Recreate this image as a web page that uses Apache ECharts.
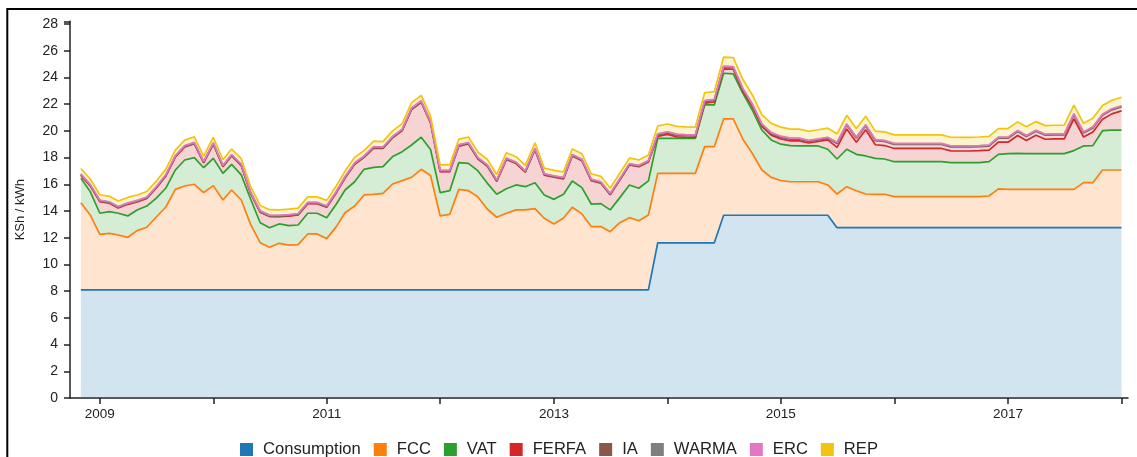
<!DOCTYPE html>
<html><head><meta charset="utf-8">
<script src="https://cdn.jsdelivr.net/npm/echarts@6/dist/echarts.min.js"></script>
<style>html,body{margin:0;padding:0;background:#fff}#c{width:1137px;height:457px}</style>
</head><body><div id="c"></div>
<script>
const months = [
'2008-11','2008-12',
'2009-01','2009-02','2009-03','2009-04','2009-05','2009-06','2009-07','2009-08','2009-09','2009-10','2009-11','2009-12',
'2010-01','2010-02','2010-03','2010-04','2010-05','2010-06','2010-07','2010-08','2010-09','2010-10','2010-11','2010-12',
'2011-01','2011-02','2011-03','2011-04','2011-05','2011-06','2011-07','2011-08','2011-09','2011-10','2011-11','2011-12',
'2012-01','2012-02','2012-03','2012-04','2012-05','2012-06','2012-07','2012-08','2012-09','2012-10','2012-11','2012-12',
'2013-01','2013-02','2013-03','2013-04','2013-05','2013-06','2013-07','2013-08','2013-09','2013-10','2013-11','2013-12',
'2014-01','2014-02','2014-03','2014-04','2014-05','2014-06','2014-07','2014-08','2014-09','2014-10','2014-11','2014-12',
'2015-01','2015-02','2015-03','2015-04','2015-05','2015-06','2015-07','2015-08','2015-09','2015-10','2015-11','2015-12',
'2016-01','2016-02','2016-03','2016-04','2016-05','2016-06','2016-07','2016-08','2016-09','2016-10','2016-11','2016-12',
'2017-01','2017-02','2017-03','2017-04','2017-05','2017-06','2017-07','2017-08','2017-09','2017-10','2017-11','2017-12',
'2018-01'];

const consumption = [
8.1,8.1,8.1,8.1,8.1,8.1,8.1,8.1,8.1,8.1,
8.1,8.1,8.1,8.1,8.1,8.1,8.1,8.1,8.1,8.1,
8.1,8.1,8.1,8.1,8.1,8.1,8.1,8.1,8.1,8.1,
8.1,8.1,8.1,8.1,8.1,8.1,8.1,8.1,8.1,8.1,
8.1,8.1,8.1,8.1,8.1,8.1,8.1,8.1,8.1,8.1,
8.1,8.1,8.1,8.1,8.1,8.1,8.1,8.1,8.1,8.1,
8.1,11.62,11.62,11.62,11.62,11.62,11.62,11.62,13.68,13.68,
13.68,13.68,13.68,13.68,13.68,13.68,13.68,13.68,13.68,13.68,
12.75,12.75,12.75,12.75,12.75,12.75,12.75,12.75,12.75,12.75,
12.75,12.75,12.75,12.75,12.75,12.75,12.75,12.75,12.75,12.75,
12.75,12.75,12.75,12.75,12.75,12.75,12.75,12.75,12.75,12.75,12.75];

const fcc = [
6.52,5.60,4.15,4.23,4.10,3.93,4.43,4.68,5.43,6.18,
7.52,7.77,7.90,7.27,7.80,6.72,7.47,6.72,4.90,3.53,
3.18,3.48,3.35,3.38,4.18,4.18,3.83,4.73,5.77,6.27,
7.10,7.15,7.22,7.92,8.17,8.42,9.02,8.56,5.53,5.65,
7.52,7.42,6.97,6.03,5.43,5.73,5.98,5.98,6.07,5.35,
4.93,5.38,6.18,5.68,4.73,4.73,4.35,5.02,5.40,5.17,
5.60,5.20,5.20,5.20,5.20,5.20,7.20,7.20,7.21,7.21,
5.69,4.64,3.39,2.84,2.60,2.51,2.51,2.51,2.51,2.27,
2.52,3.07,2.77,2.52,2.50,2.50,2.32,2.32,2.32,2.32,
2.32,2.32,2.32,2.32,2.32,2.32,2.37,2.90,2.87,2.87,
2.87,2.87,2.87,2.87,2.87,2.87,3.37,3.37,4.32,4.32,4.32];

const vat = [
1.83,1.75,1.58,1.62,1.63,1.60,1.55,1.59,1.42,1.42,
1.45,1.95,1.99,1.87,2.04,2.00,1.92,1.88,1.90,1.49,
1.47,1.45,1.45,1.47,1.55,1.55,1.57,1.69,1.70,1.82,
1.92,2.02,2.00,2.05,2.17,2.42,2.40,1.94,1.74,1.77,
2.00,2.05,1.95,1.94,1.72,1.84,1.87,1.74,1.95,1.75,
1.84,1.77,1.97,1.97,1.69,1.72,1.63,1.88,2.45,2.43,
2.55,2.62,2.62,2.62,2.62,2.62,3.12,3.12,3.42,3.37,
3.44,3.24,2.99,2.80,2.72,2.70,2.68,2.68,2.68,2.67,
2.62,2.80,2.72,2.85,2.69,2.64,2.62,2.62,2.62,2.62,
2.62,2.62,2.55,2.55,2.55,2.55,2.57,2.59,2.67,2.70,
2.67,2.67,2.67,2.67,2.67,2.90,2.75,2.77,2.94,2.99,2.99];

const ferfa = [
0.22,0.43,0.87,0.63,0.40,0.87,0.60,0.57,0.75,0.90,
0.97,0.97,1.04,0.36,1.06,0.50,0.63,0.70,0.42,0.78,
0.83,0.54,0.72,0.75,0.71,0.71,0.78,0.85,0.90,1.31,
0.89,1.44,1.36,1.41,1.58,2.66,2.62,2.00,1.57,1.42,
1.24,1.45,0.88,1.27,0.97,2.18,1.60,1.08,2.47,1.49,
1.66,1.16,1.87,2.02,1.75,1.53,1.13,1.31,1.49,1.61,
1.42,0.14,0.29,0.11,0.08,0.06,0.13,0.22,0.33,0.35,
0.15,0.27,0.27,0.36,0.40,0.36,0.38,0.22,0.33,0.70,
0.87,1.52,0.91,1.96,1.02,1.01,0.99,0.99,0.99,0.99,
0.99,0.99,0.88,0.87,0.87,0.90,0.87,0.91,0.86,1.33,
0.99,1.38,1.08,1.11,1.11,2.38,0.67,1.03,0.86,1.21,1.43];

const ia = [
0.03,0.03,0.03,0.03,0.03,0.03,0.03,0.03,0.03,0.03,
0.03,0.03,0.03,0.03,0.03,0.03,0.03,0.03,0.03,0.03,
0.03,0.03,0.03,0.03,0.03,0.03,0.03,0.03,0.03,0.03,
0.03,0.03,0.03,0.03,0.03,0.03,0.03,0.03,0.03,0.03,
0.03,0.03,0.03,0.03,0.03,0.03,0.03,0.03,0.03,0.03,
0.03,0.03,0.03,0.03,0.03,0.03,0.03,0.03,0.03,0.03,
0.03,0.12,0.12,0.12,0.12,0.12,0.12,0.12,0.12,0.12,
0.12,0.12,0.12,0.12,0.12,0.12,0.12,0.12,0.12,0.12,
0.30,0.30,0.30,0.30,0.30,0.30,0.30,0.30,0.30,0.30,
0.30,0.30,0.30,0.30,0.30,0.30,0.30,0.30,0.30,0.30,
0.30,0.30,0.30,0.30,0.30,0.30,0.30,0.30,0.30,0.30,0.30];

const warma = [
0.05,0.05,0.05,0.05,0.05,0.05,0.05,0.05,0.05,0.05,
0.05,0.05,0.05,0.05,0.05,0.05,0.05,0.05,0.05,0.05,
0.05,0.05,0.05,0.05,0.05,0.05,0.05,0.05,0.05,0.05,
0.05,0.05,0.05,0.05,0.05,0.05,0.05,0.05,0.05,0.05,
0.05,0.05,0.05,0.05,0.05,0.05,0.05,0.05,0.05,0.05,
0.05,0.05,0.05,0.05,0.05,0.05,0.05,0.05,0.05,0.05,
0.05,0.05,0.05,0.05,0.05,0.05,0.05,0.05,0.05,0.05,
0.05,0.05,0.05,0.05,0.05,0.05,0.05,0.05,0.05,0.05,
0.05,0.05,0.05,0.05,0.05,0.05,0.05,0.05,0.05,0.05,
0.05,0.05,0.05,0.05,0.05,0.05,0.05,0.05,0.05,0.05,
0.05,0.05,0.05,0.05,0.05,0.05,0.05,0.05,0.05,0.05,0.05];

const erc = [
0.03,0.03,0.03,0.03,0.03,0.03,0.03,0.03,0.03,0.03,
0.03,0.03,0.03,0.03,0.03,0.03,0.03,0.03,0.03,0.03,
0.03,0.03,0.03,0.03,0.03,0.03,0.03,0.03,0.03,0.03,
0.03,0.03,0.03,0.03,0.03,0.03,0.03,0.03,0.03,0.03,
0.03,0.03,0.03,0.03,0.03,0.03,0.03,0.03,0.03,0.03,
0.03,0.03,0.03,0.03,0.03,0.03,0.03,0.03,0.03,0.03,
0.03,0.03,0.03,0.03,0.03,0.03,0.03,0.03,0.03,0.03,
0.03,0.03,0.03,0.03,0.03,0.03,0.03,0.03,0.03,0.03,
0.03,0.03,0.03,0.03,0.03,0.03,0.03,0.03,0.03,0.03,
0.03,0.03,0.03,0.03,0.03,0.03,0.03,0.03,0.03,0.03,
0.03,0.03,0.03,0.03,0.03,0.03,0.03,0.03,0.03,0.03,0.03];

const rep = [
0.405,0.405,0.405,0.405,0.405,0.405,0.405,0.405,0.405,0.405,
0.405,0.405,0.405,0.405,0.405,0.405,0.405,0.405,0.405,0.405,
0.405,0.405,0.405,0.405,0.405,0.405,0.405,0.405,0.405,0.405,
0.405,0.405,0.405,0.405,0.405,0.405,0.405,0.405,0.405,0.405,
0.405,0.405,0.405,0.405,0.405,0.405,0.405,0.405,0.405,0.405,
0.405,0.405,0.405,0.405,0.405,0.405,0.405,0.405,0.405,0.405,
0.405,0.58,0.58,0.58,0.58,0.58,0.58,0.58,0.68,0.68,
0.68,0.68,0.68,0.68,0.68,0.68,0.68,0.68,0.68,0.68,
0.64,0.64,0.64,0.64,0.64,0.64,0.64,0.64,0.64,0.64,
0.64,0.64,0.64,0.64,0.64,0.64,0.64,0.64,0.64,0.64,
0.64,0.64,0.64,0.64,0.64,0.64,0.64,0.64,0.64,0.64,0.64];

const seriesNames = ['Consumption','FCC','VAT','FERFA','IA','WARMA','ERC','REP'];
const seriesValues = [consumption, fcc, vat, ferfa, ia, warma, erc, rep];
const colors = ['#1f77b4','#ff7f0e','#2ca02c','#d62728','#8c564b','#7f7f7f','#e377c2','#f2c40f'];
const yAxisTitle = 'KSh / kWh';

const FONT = '"Liberation Sans", Arial, sans-serif';
const chart = echarts.init(document.getElementById('c'), null, {renderer: 'canvas'});

const series = seriesNames.map((name, k) => ({
  name: name,
  type: 'line',
  stack: 'total',
  symbol: 'none',
  showSymbol: false,
  color: colors[k],
  lineStyle: {width: 1.7, color: colors[k]},
  areaStyle: {color: colors[k], opacity: 0.2},
  emphasis: {disabled: true},
  data: months.map((m, i) => [m + '-01', seriesValues[k][i]])
}));

chart.setOption({
  animation: false,
  color: colors,
  textStyle: {fontFamily: FONT},
  grid: {left: 70, right: 9, top: 21.3, bottom: 59, containLabel: false, outerBoundsMode: 'none'},
  graphic: [{
    type: 'rect', silent: true, z: 100,
    shape: {x: 7.3, y: 9, width: 1300, height: 700},
    style: {fill: 'none', stroke: '#000', lineWidth: 2}
  }],
  legend: {
    data: seriesNames,
    left: 235,
    top: 436,
    icon: 'rect',
    itemWidth: 13, itemHeight: 13,
    itemGap: 13,
    textStyle: {fontSize: 16.6, color: '#222', fontFamily: FONT, padding: [0, 0, 0, 5]}
  },
  xAxis: {
    type: 'time',
    min: '2008-09-27',
    max: '2018-01-22',
    minInterval: 365 * 24 * 3600 * 1000,
    maxInterval: 366 * 24 * 3600 * 1000,
    splitLine: {show: false},
    axisLine: {show: true, lineStyle: {color: '#222', width: 1.5}},
    axisTick: {show: true, length: 6, lineStyle: {color: '#222', width: 1.5}},
    axisLabel: {
      fontSize: 13.5, color: '#222', margin: 9, fontFamily: FONT,
      showMinLabel: false, showMaxLabel: false,
      formatter: function (v) {
        const d = new Date(v);
        if (d.getMonth() !== 0 || d.getDate() !== 1) return '';
        const y = d.getFullYear();
        return y % 2 === 1 ? String(y) : '';
      }
    }
  },
  yAxis: {
    type: 'value',
    min: 0, max: 28.2, interval: 2,
    name: yAxisTitle,
    nameLocation: 'middle',
    nameRotate: 90,
    nameGap: 43,
    nameTextStyle: {fontSize: 13, color: '#222', fontFamily: FONT},
    splitLine: {show: false},
    axisLine: {show: true, lineStyle: {color: '#222', width: 1.5}},
    axisTick: {show: true, length: 6, lineStyle: {color: '#222', width: 1.5}},
    axisLabel: {
      fontSize: 14, color: '#222', margin: 12, fontFamily: FONT,
      formatter: function (v) { return Math.abs(v % 2) < 1e-9 ? String(v) : ''; }
    }
  },
  series: series
});
</script>
</body></html>
